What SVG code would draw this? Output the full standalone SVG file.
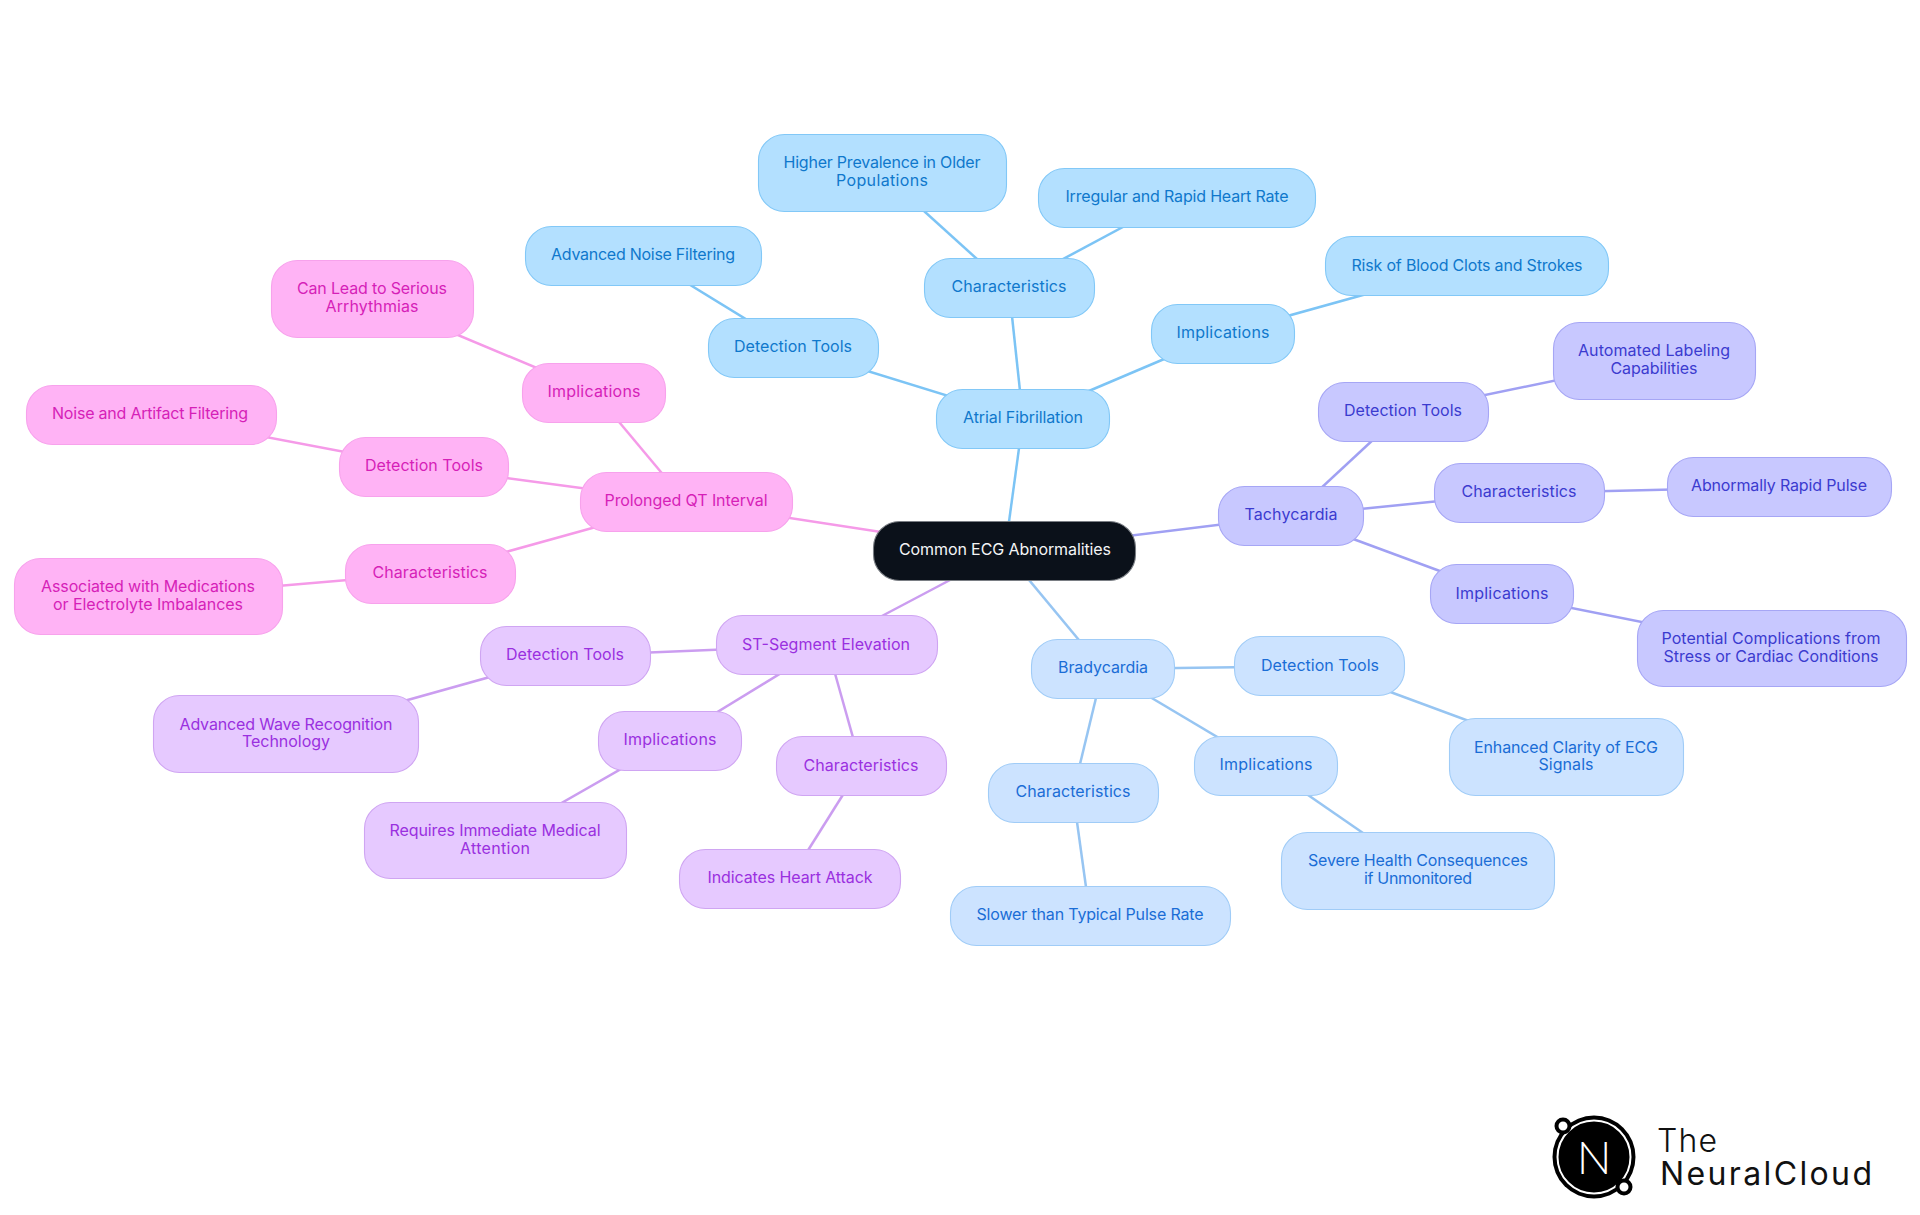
<svg xmlns="http://www.w3.org/2000/svg" width="1920" height="1215" viewBox="0 0 1920 1215">
<style>
text{font-family:"Inter","Noto Sans","Liberation Sans",sans-serif;font-size:16px;text-anchor:middle}
rect{stroke-width:1.1}
#connectors line{stroke-width:2.5;fill:none}
.n{fill:#0b111a;stroke:#7a7e84}.n text{fill:#f4f5f6;stroke:none}
.af rect{fill:#b3e0ff;stroke:#82c8f7}.af text{fill:#0f78cc}
.ta rect{fill:#c8c8ff;stroke:#a6a6f5}.ta text{fill:#3b3bcf}
.br rect{fill:#cce3ff;stroke:#a0ccf7}.br text{fill:#1a6dd6}
.st rect{fill:#e6c9ff;stroke:#cfa5f2}.st text{fill:#9a30e0}
.qt rect{fill:#ffb3f5;stroke:#f7a2ec}.qt text{fill:#d61fb8}
.e-af{stroke:#7cc4f5}.e-ta{stroke:#a0a0f3}.e-br{stroke:#97c5f2}.e-st{stroke:#cb9df0}.e-qt{stroke:#f59ae8}
.lg{font-family:"Inter","Noto Sans",sans-serif;font-size:32px;text-anchor:start;fill:#111}
</style>
<rect width="1920" height="1215" fill="#fff" stroke="none"/>
<g id="connectors">
<line class="e-af" x1="1005" y1="551" x2="1023" y2="419"/>
<line class="e-af" x1="1023" y1="419" x2="793" y2="348"/>
<line class="e-af" x1="1023" y1="419" x2="1009" y2="288"/>
<line class="e-af" x1="1023" y1="419" x2="1223" y2="334"/>
<line class="e-af" x1="793" y1="348" x2="643" y2="256"/>
<line class="e-af" x1="1009" y1="288" x2="882" y2="173"/>
<line class="e-af" x1="1009" y1="288" x2="1177" y2="198"/>
<line class="e-af" x1="1223" y1="334" x2="1467" y2="266"/>
<line class="e-ta" x1="1005" y1="551" x2="1291" y2="516"/>
<line class="e-ta" x1="1291" y1="516" x2="1403" y2="412"/>
<line class="e-ta" x1="1291" y1="516" x2="1519" y2="493"/>
<line class="e-ta" x1="1291" y1="516" x2="1502" y2="594"/>
<line class="e-ta" x1="1403" y1="412" x2="1654" y2="360"/>
<line class="e-ta" x1="1519" y1="493" x2="1779" y2="487"/>
<line class="e-ta" x1="1502" y1="594" x2="1772" y2="648"/>
<line class="e-br" x1="1005" y1="551" x2="1103" y2="669"/>
<line class="e-br" x1="1103" y1="669" x2="1320" y2="666"/>
<line class="e-br" x1="1103" y1="669" x2="1266" y2="766"/>
<line class="e-br" x1="1103" y1="669" x2="1073" y2="793"/>
<line class="e-br" x1="1320" y1="666" x2="1566" y2="757"/>
<line class="e-br" x1="1266" y1="766" x2="1418" y2="871"/>
<line class="e-br" x1="1073" y1="793" x2="1090" y2="916"/>
<line class="e-st" x1="1005" y1="551" x2="827" y2="645"/>
<line class="e-st" x1="827" y1="645" x2="565" y2="656"/>
<line class="e-st" x1="827" y1="645" x2="670" y2="741"/>
<line class="e-st" x1="827" y1="645" x2="861" y2="766"/>
<line class="e-st" x1="565" y1="656" x2="286" y2="734"/>
<line class="e-st" x1="670" y1="741" x2="495" y2="841"/>
<line class="e-st" x1="861" y1="766" x2="790" y2="879"/>
<line class="e-qt" x1="1005" y1="551" x2="686" y2="502"/>
<line class="e-qt" x1="686" y1="502" x2="594" y2="392"/>
<line class="e-qt" x1="686" y1="502" x2="424" y2="467"/>
<line class="e-qt" x1="686" y1="502" x2="430" y2="573"/>
<line class="e-qt" x1="594" y1="392" x2="372" y2="299"/>
<line class="e-qt" x1="424" y1="467" x2="150" y2="415"/>
<line class="e-qt" x1="430" y1="573" x2="148" y2="597"/>
</g>
<g id="root" class="n"><rect x="873.5" y="521.5" width="262" height="59" rx="26"/><text x="1005" y="555" textLength="212">Common ECG Abnormalities</text></g>
<g id="af" class="af"><rect x="936.5" y="389.5" width="173" height="59" rx="26"/><text x="1023" y="423" textLength="120">Atrial Fibrillation</text></g>
<g id="af-dt" class="af"><rect x="708.5" y="318.5" width="170" height="59" rx="26"/><text x="793" y="352" textLength="118">Detection Tools</text></g>
<g id="af-ch" class="af"><rect x="924.5" y="258.5" width="170" height="59" rx="26"/><text x="1009" y="292" textLength="115">Characteristics</text></g>
<g id="af-im" class="af"><rect x="1151.5" y="304.5" width="143" height="59" rx="26"/><text x="1223" y="338" textLength="93">Implications</text></g>
<g id="af-dt1" class="af"><rect x="525.5" y="226.5" width="236" height="59" rx="26"/><text x="643" y="260" textLength="184">Advanced Noise Filtering</text></g>
<g id="af-ch1" class="af"><rect x="758.5" y="134.5" width="248" height="77" rx="26"/><text x="882" y="168" textLength="197">Higher Prevalence in Older</text><text x="882" y="186" textLength="92">Populations</text></g>
<g id="af-ch2" class="af"><rect x="1038.5" y="168.5" width="277" height="59" rx="26"/><text x="1177" y="202" textLength="223">Irregular and Rapid Heart Rate</text></g>
<g id="af-im1" class="af"><rect x="1325.5" y="236.5" width="283" height="59" rx="26"/><text x="1467" y="271" textLength="231">Risk of Blood Clots and Strokes</text></g>
<g id="ta" class="ta"><rect x="1218.5" y="486.5" width="145" height="59" rx="26"/><text x="1291" y="520" textLength="93">Tachycardia</text></g>
<g id="ta-dt" class="ta"><rect x="1318.5" y="382.5" width="170" height="59" rx="26"/><text x="1403" y="416" textLength="118">Detection Tools</text></g>
<g id="ta-ch" class="ta"><rect x="1434.5" y="463.5" width="170" height="59" rx="26"/><text x="1519" y="497" textLength="115">Characteristics</text></g>
<g id="ta-im" class="ta"><rect x="1430.5" y="564.5" width="143" height="59" rx="26"/><text x="1502" y="599" textLength="93">Implications</text></g>
<g id="ta-dt1" class="ta"><rect x="1553.5" y="322.5" width="202" height="77" rx="26"/><text x="1654" y="356" textLength="152">Automated Labeling</text><text x="1654" y="374" textLength="87">Capabilities</text></g>
<g id="ta-ch1" class="ta"><rect x="1667.5" y="457.5" width="224" height="59" rx="26"/><text x="1779" y="491" textLength="176">Abnormally Rapid Pulse</text></g>
<g id="ta-im1" class="ta"><rect x="1637.5" y="610.5" width="269" height="76" rx="26"/><text x="1771" y="644" textLength="219">Potential Complications from</text><text x="1771" y="662" textLength="215">Stress or Cardiac Conditions</text></g>
<g id="br" class="br"><rect x="1031.5" y="639.5" width="143" height="59" rx="26"/><text x="1103" y="673" textLength="90">Bradycardia</text></g>
<g id="br-dt" class="br"><rect x="1234.5" y="636.5" width="170" height="59" rx="26"/><text x="1320" y="671" textLength="118">Detection Tools</text></g>
<g id="br-im" class="br"><rect x="1194.5" y="736.5" width="143" height="59" rx="26"/><text x="1266" y="770" textLength="93">Implications</text></g>
<g id="br-ch" class="br"><rect x="988.5" y="763.5" width="170" height="59" rx="26"/><text x="1073" y="797" textLength="115">Characteristics</text></g>
<g id="br-dt1" class="br"><rect x="1449.5" y="718.5" width="234" height="77" rx="26"/><text x="1566" y="753" textLength="184">Enhanced Clarity of ECG</text><text x="1566" y="770" textLength="55">Signals</text></g>
<g id="br-im1" class="br"><rect x="1281.5" y="832.5" width="273" height="77" rx="26"/><text x="1418" y="866" textLength="220">Severe Health Consequences</text><text x="1418" y="884" textLength="108">if Unmonitored</text></g>
<g id="br-ch1" class="br"><rect x="950.5" y="886.5" width="280" height="59" rx="26"/><text x="1090" y="920" textLength="227">Slower than Typical Pulse Rate</text></g>
<g id="st" class="st"><rect x="716.5" y="615.5" width="221" height="59" rx="26"/><text x="826" y="650" textLength="168">ST-Segment Elevation</text></g>
<g id="st-dt" class="st"><rect x="480.5" y="626.5" width="170" height="59" rx="26"/><text x="565" y="660" textLength="118">Detection Tools</text></g>
<g id="st-im" class="st"><rect x="598.5" y="711.5" width="143" height="59" rx="26"/><text x="670" y="745" textLength="93">Implications</text></g>
<g id="st-ch" class="st"><rect x="776.5" y="736.5" width="170" height="59" rx="26"/><text x="861" y="771" textLength="115">Characteristics</text></g>
<g id="st-dt1" class="st"><rect x="153.5" y="695.5" width="265" height="77" rx="26"/><text x="286" y="730" textLength="213">Advanced Wave Recognition</text><text x="286" y="747" textLength="88">Technology</text></g>
<g id="st-im1" class="st"><rect x="364.5" y="802.5" width="262" height="76" rx="26"/><text x="495" y="836" textLength="211">Requires Immediate Medical</text><text x="495" y="854" textLength="70">Attention</text></g>
<g id="st-ch1" class="st"><rect x="679.5" y="849.5" width="221" height="59" rx="26"/><text x="790" y="883" textLength="165">Indicates Heart Attack</text></g>
<g id="qt" class="qt"><rect x="580.5" y="472.5" width="212" height="59" rx="26"/><text x="686" y="506" textLength="163">Prolonged QT Interval</text></g>
<g id="qt-im" class="qt"><rect x="522.5" y="363.5" width="143" height="59" rx="26"/><text x="594" y="397" textLength="93">Implications</text></g>
<g id="qt-dt" class="qt"><rect x="339.5" y="437.5" width="169" height="59" rx="26"/><text x="424" y="471" textLength="118">Detection Tools</text></g>
<g id="qt-ch" class="qt"><rect x="345.5" y="544.5" width="170" height="59" rx="26"/><text x="430" y="578" textLength="115">Characteristics</text></g>
<g id="qt-im1" class="qt"><rect x="271.5" y="260.5" width="202" height="77" rx="26"/><text x="372" y="294" textLength="150">Can Lead to Serious</text><text x="372" y="312" textLength="93">Arrhythmias</text></g>
<g id="qt-dt1" class="qt"><rect x="26.5" y="385.5" width="250" height="59" rx="26"/><text x="150" y="419" textLength="196">Noise and Artifact Filtering</text></g>
<g id="qt-ch1" class="qt"><rect x="14.5" y="558.5" width="268" height="76" rx="26"/><text x="148" y="592" textLength="214">Associated with Medications</text><text x="148" y="610" textLength="190">or Electrolyte Imbalances</text></g>
<g id="logo">
<circle cx="1594" cy="1157" r="41.5" fill="#000"/>
<circle cx="1594" cy="1157" r="36.5" fill="none" stroke="#fff" stroke-width="2"/>
<circle cx="1563" cy="1126" r="6.5" fill="#fff" stroke="#000" stroke-width="4"/>
<circle cx="1624" cy="1187" r="6.5" fill="#fff" stroke="#000" stroke-width="4"/>
<text x="1594" y="1174" style="font-family:'Lato','Noto Sans',sans-serif;font-size:46px;font-weight:300" fill="#fff">N</text>
<text class="lg" x="1657" y="1152" font-weight="300" textLength="60">The</text>
<text class="lg" x="1660" y="1185" textLength="212">NeuralCloud</text>
</g>
</svg>
